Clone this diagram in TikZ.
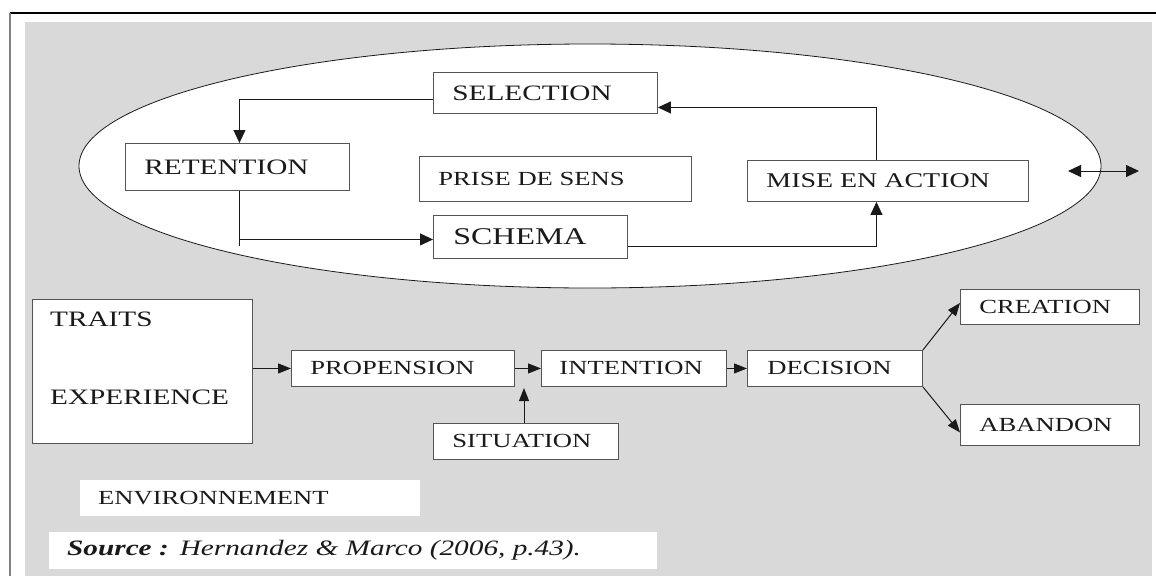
\documentclass[tikz,border=0pt]{standalone}
\usepackage{fontspec}
\setmainfont{Liberation Serif}[FakeStretch=1.33]
\usetikzlibrary{arrows.meta,shapes.geometric}
\definecolor{panel}{HTML}{D9D9D9}
\definecolor{boxline}{HTML}{555555}
\definecolor{ink}{HTML}{1A1A1A}
\begin{document}
\begin{tikzpicture}[x=1pt,y=-1pt,
  box/.style={draw=boxline, fill=white, line width=0.9pt, anchor=north west,
    align=left, inner ysep=0pt, text=ink},
  plain/.style={fill=white, anchor=north west, align=left, inner ysep=0pt, text=ink},
  lbl/.style={anchor=west, inner sep=0pt, text=ink},
  fs/.style={font=\fontsize{#1pt}{#1pt}\selectfont},
  link/.style={draw=ink, line width=1pt},
  arr/.style={link, -{Triangle[length=13pt,width=12pt]}},
  arrs/.style={link, -{Triangle[length=13pt,width=10pt]}},
  arrb/.style={link, {Triangle[length=13pt,width=12pt]}-{Triangle[length=13pt,width=12pt]}}]
\useasboundingbox (0,0) rectangle (1156,576);

% page frame and shaded panel
\fill[white] (0,0) rectangle (1156,576);
\fill[panel] (25,22) rectangle (1152,576);
\draw[black, line width=1.2pt] (10,13) -- (1156,13);
\draw[gray, line width=2pt] (10,13) -- (10,576);

% sense-making cycle
\node[ellipse, draw=ink, fill=white, line width=0.8pt, minimum width=1022pt,
      minimum height=244pt, inner sep=0pt] (cyc) at (590,166) {};

\node[box, fs=22, minimum height=41pt, text width=186pt, inner xsep=19pt] (sel) at (433,72) {SELECTION};
\node[box, fs=22, minimum height=47pt, text width=186pt, inner xsep=19pt] (ret) at (125,143) {RETENTION};
\node[box, fs=20, minimum height=45pt, text width=234pt, inner xsep=19pt] (prise) at (419,156) {PRISE DE SENS};
\node[box, fs=24, minimum height=43pt, text width=154pt, inner xsep=20pt] (sch) at (433,215) {SCHEMA};
\node[box, fs=21, minimum height=41pt, text width=243pt, inner xsep=19pt] (mise) at (747,160) {MISE EN ACTION};

\draw[arr] ([yshift=-6.5pt]sel.west) -| ([xshift=2pt]ret.north);
\draw[link] ([xshift=2pt]ret.south) -- ++(0,55);
\draw[arr] ([xshift=2pt]ret.south) |- ([yshift=-2.5pt]sch.west);
\draw[arr] ([yshift=-9.5pt]sch.east) -| ([xshift=-11.5pt]mise.south);
\draw[arr] ([xshift=-11.5pt]mise.north) |- ([yshift=-14.5pt]sel.east);

\coordinate (dl) at (1068,171);
\coordinate (dr) at (1139,171);
\draw[arrb] (dl) -- (dr);

% decision chain
\node[box, minimum width=220pt, minimum height=144pt, inner sep=0pt] (te) at (32,299) {};
\node[lbl, fs=22] (traits) at (50,319) {TRAITS};
\node[lbl, fs=22] (exper) at (50,397) {EXPERIENCE};

\node[box, fs=20, minimum height=36pt, text width=185pt, inner xsep=19pt] (prop) at (291,350) {PROPENSION};
\node[box, fs=20, minimum height=36pt, text width=149pt, inner xsep=18pt] (int) at (541,350) {INTENTION};
\node[box, fs=20, minimum height=36pt, text width=135pt, inner xsep=20pt] (dec) at (747,350) {DECISION};
\node[box, fs=20, minimum height=36pt, text width=147pt, inner xsep=19pt] (sit) at (433,423) {SITUATION};
\node[box, fs=20, minimum height=35pt, text width=141pt, inner xsep=19pt] (cre) at (960,289) {CREATION};
\node[box, fs=20, minimum height=41pt, text width=141pt, inner xsep=19pt] (aba) at (960,404) {ABANDON};

\draw[arrs] (te.east |- prop.west) -- (prop.west);
\draw[arrs] (prop.east) -- (int.west);
\draw[arrs] (int.east) -- (dec.west);
\coordinate (gap) at (524,388);
\draw[arrs] (sit.north -| gap) -- (gap);
\draw[arrs] (dec.north east) -- ([yshift=4pt]cre.west);
\draw[arrs] (dec.south east) -- ([yshift=-7.5pt]aba.west);

% captions
\node[plain, fs=20, minimum height=36pt, text width=304pt, inner xsep=18pt] (env) at (80,480) {ENVIRONNEMENT};
\node[plain, fs=22, minimum height=37pt, text width=572pt, inner xsep=18pt] (src) at (49,532)
  {\textbf{\textit{Source :}} \textit{Hernandez \& Marco (2006, p.43).}};
\end{tikzpicture}
\end{document}
